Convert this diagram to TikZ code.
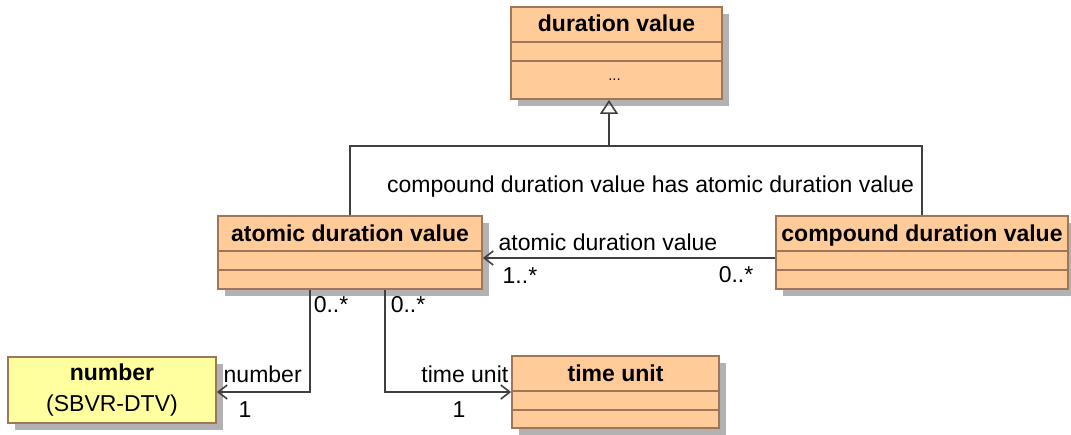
\documentclass[tikz,border=0pt]{standalone}
\usepackage{fontspec}
\setmainfont{Liberation Sans}
\usetikzlibrary{arrows.meta,shadows,positioning}

\definecolor{clsfill}{RGB}{255,204,153}
\definecolor{numfill}{RGB}{255,255,160}
\definecolor{clsline}{RGB}{160,118,88}
\definecolor{shadowgray}{RGB}{178,178,178}
\definecolor{linegray}{RGB}{64,64,64}

\begin{document}
\begin{tikzpicture}[x=1pt,y=-1pt,font=\fontsize{23}{27}\selectfont,
  cls/.style={draw=clsline,fill=clsfill,line width=1.8pt,inner sep=0pt,drop shadow={shadow xshift=7pt,shadow yshift=-7pt,fill=shadowgray,opacity=1}},
  hdr/.style={font=\fontsize{23}{27}\selectfont\bfseries,anchor=base,inner sep=0pt},
  sep/.style={draw=clsline,line width=1.8pt},
  assoc/.style={draw=linegray,line width=1.6pt,-{Straight Barb[length=9pt,width=14pt]}},
  genl/.style={draw=linegray,line width=1.6pt},
  lbl/.style={inner sep=0pt}]
\useasboundingbox (0,0) rectangle (1071,434);

% classes
\node[cls,minimum width=211pt,minimum height=92pt] (dv) at (616.5,53) {};
\node[cls,minimum width=264pt,minimum height=73pt] (adv) at (350,252.5) {};
\node[cls,minimum width=292pt,minimum height=73pt] (cdv) at (922,252.5) {};
\node[cls,minimum width=207pt,minimum height=72pt] (tu) at (615.5,392) {};
\node[cls,fill=numfill,minimum width=208pt,minimum height=66pt,align=center,font=\fontsize{23}{31}\selectfont] (num) at (112,390) {\textbf{number}\\(SBVR-DTV)};

% names and compartments
\node[hdr] (dvname) at ([yshift=-25pt]dv.north) {duration value};
\node[hdr] (advname) at ([yshift=-26pt]adv.north) {atomic duration value};
\node[hdr] (cdvname) at ([yshift=-26pt]cdv.north) {compound duration value};
\node[hdr] (tuname) at ([yshift=-26pt]tu.north) {time unit};
\node[lbl,anchor=base,font=\fontsize{15}{18}\selectfont] (dvdots) at ([xshift=-2pt,yshift=-74pt]dv.north) {...};
\foreach \c in {dv,adv,cdv,tu}{
  \draw[sep] ([yshift=-36pt]\c.north west) -- ([yshift=-36pt]\c.north east);
  \draw[sep] ([yshift=-55pt]\c.north west) -- ([yshift=-55pt]\c.north east);
}

% generalization
\coordinate (gen) at (609,146);
\draw[genl] (adv.north) |- (gen) -| (cdv.north);
\draw[genl,-{Triangle[open,length=14pt,width=18pt]}] (gen) -- (gen |- dv.south);
\node[lbl,anchor=base west] (hasname) at (387,192) {compound duration value has atomic duration value};

% associations
\draw[assoc] ([yshift=-5.5pt]cdv.west) -- ([yshift=-5.5pt]adv.east)
  node[lbl,pos=1,anchor=base west,xshift=15pt,yshift=8pt] (advrole) {atomic duration value}
  node[lbl,pos=1,anchor=base west,xshift=19pt,yshift=-25pt] (advmult) {1..*}
  node[lbl,pos=0,anchor=base east,xshift=-21pt,yshift=-24pt] (cdvmult) {0..*};
\draw[assoc] ([xshift=-40pt]adv.south) |- ([yshift=-2pt]num.east)
  node[lbl,pos=0,anchor=base west,xshift=3pt,yshift=-23pt] (numfrom) {0..*}
  node[lbl,pos=1,anchor=base west,xshift=6pt,yshift=10pt] (numrole) {number}
  node[lbl,pos=1,anchor=base west,xshift=21pt,yshift=-25pt] (numto) {1};
\draw[assoc] ([xshift=35pt]adv.south) |- (tu.west)
  node[lbl,pos=0,anchor=base west,xshift=5pt,yshift=-23pt] (tufrom) {0..*}
  node[lbl,pos=1,anchor=base east,xshift=-2pt,yshift=10pt] (turole) {time unit}
  node[lbl,pos=1,anchor=base east,xshift=-45pt,yshift=-25pt] (tuto) {1};
\end{tikzpicture}
\end{document}
